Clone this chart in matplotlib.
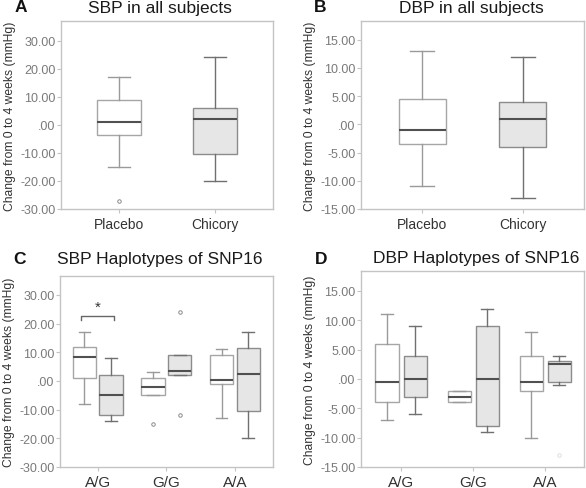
import matplotlib
matplotlib.use("Agg")
import matplotlib.pyplot as plt

plt.rcParams['font.family'] = ['Liberation Sans', 'DejaVu Sans']

# ---- data ----
groups_all = ['Placebo', 'Chicory']
# box stats: whislo, q1, med, q3, whishi
sbp_all = [[-15, -3.5, 1, 9, 17], [-20, -10.5, 2, 6, 24]]
sbp_all_fliers = [[-27], []]
dbp_all = [[-11, -3.5, -1, 4.5, 13], [-13, -4, 1, 4, 12]]
dbp_all_fliers = [[], []]

haplotypes = ['A/G', 'G/G', 'A/A']
# per haplotype: placebo then chicory
sbp_hap_placebo = [[-8, 1, 8.5, 12, 17], [-5, -5, -2, 1, 3], [-13, -1, 0.5, 9, 11]]
sbp_hap_placebo_fliers = [[], [-15], []]
sbp_hap_chicory = [[-14, -12, -5, 2, 8], [2, 2, 3.5, 9, 9], [-20, -10.5, 2.5, 11.5, 17]]
sbp_hap_chicory_fliers = [[], [24, -12], []]
dbp_hap_placebo = [[-7, -4, -0.5, 6, 11], [-4, -4, -3, -2, -2], [-10, -2, -0.5, 4, 8]]
dbp_hap_placebo_fliers = [[], [], []]
dbp_hap_chicory = [[-6, -3, 0, 4, 9], [-9, -8, 0, 9, 12], [-1, -0.5, 2.5, 3, 4]]
dbp_hap_chicory_fliers = [[], [], [-13]]

sbp_ticks = [30, 20, 10, 0, -10, -20, -30]
dbp_ticks = [15, 10, 5, 0, -5, -10, -15]

ylabel = 'Change from 0 to 4 weeks (mmHg)'

FILL_P = 'white'
FILL_C = '#e6e6e6'
SPINE = '#c4c4c4'


def stats(vals, fliers):
    lo, q1, med, q3, hi = vals
    return dict(whislo=lo, q1=q1, med=med, q3=q3, whishi=hi, fliers=fliers)


def draw(ax, st, pos, width, fill, edge, whisk, faint=False):
    fc = '#dedede' if faint else '#8a8a8a'
    ax.bxp(st, positions=pos, widths=width, patch_artist=True, capwidths=width * 0.5,
           boxprops=dict(facecolor=fill, edgecolor=edge, linewidth=1.0),
           medianprops=dict(color='#505050', linewidth=1.5),
           whiskerprops=dict(color=whisk, linewidth=1.0),
           capprops=dict(color=whisk, linewidth=1.0),
           flierprops=dict(marker='o', markersize=2.5, markerfacecolor='none',
                           markeredgecolor=fc, markeredgewidth=0.7))


def style(ax, ticks, ylim, xlim, xpos, xlabels, xsize):
    ax.set_ylim(*ylim)
    ax.set_xlim(*xlim)
    ax.set_yticks(ticks)
    ax.set_yticklabels(['.00' if t == 0 else '%.2f' % t for t in ticks])
    ax.set_xticks(xpos)
    ax.set_xticklabels(xlabels)
    for s in ax.spines.values():
        s.set_color(SPINE)
        s.set_linewidth(1.0)
    ax.tick_params(axis='y', colors='#c4c4c4', labelcolor='#7a7a7a', labelsize=9, length=3, pad=1)
    ax.tick_params(axis='x', colors='#c4c4c4', labelcolor='#333333', labelsize=xsize, length=3, pad=3)
    ax.set_ylabel(ylabel, fontsize=8.7, color='#333333', labelpad=3)


fig = plt.figure(figsize=(5.86, 4.89), dpi=100)
W, H = 586.0, 489.0


def axes_px(l, t, r, b):
    return fig.add_axes([l / W, 1 - b / H, (r - l) / W, (b - t) / H])


axA = axes_px(61, 22, 273, 210)
axB = axes_px(361, 22, 584, 210)
axC = axes_px(60, 277, 273, 468)
axD = axes_px(361, 272, 584, 468)

# panel A
draw(axA, [stats(sbp_all[0], sbp_all_fliers[0])], [1], 0.46, FILL_P, '#a6a6a6', '#9a9a9a')
draw(axA, [stats(sbp_all[1], sbp_all_fliers[1])], [2], 0.46, FILL_C, '#8c8c8c', '#707070')
style(axA, sbp_ticks, (-30, 37), (0.39, 2.61), [1, 2], groups_all, 10)

# panel B
draw(axB, [stats(dbp_all[0], dbp_all_fliers[0])], [1], 0.47, FILL_P, '#a6a6a6', '#9a9a9a')
draw(axB, [stats(dbp_all[1], dbp_all_fliers[1])], [2], 0.47, FILL_C, '#8c8c8c', '#707070')
style(axB, dbp_ticks, (-15, 18.3), (0.39, 2.61), [1, 2], groups_all, 10)

# panel C
xs = [1, 2, 3]
off, bw = 0.195, 0.34
draw(axC, [stats(v, f) for v, f in zip(sbp_hap_placebo, sbp_hap_placebo_fliers)],
     [x - off for x in xs], bw, FILL_P, '#a6a6a6', '#9a9a9a')
draw(axC, [stats(v, f) for v, f in zip(sbp_hap_chicory, sbp_hap_chicory_fliers)],
     [x + off for x in xs], bw, FILL_C, '#8c8c8c', '#707070')
style(axC, sbp_ticks, (-30, 36.6), (0.45, 3.555), xs, haplotypes, 11)
# significance bracket between A/G placebo and chicory
axC.plot([1 - 0.24, 1 - 0.24, 1 + 0.24, 1 + 0.24], [21.2, 22.7, 22.7, 21.2], color='#666666', lw=1.0)
axC.text(1, 23.3, '*', ha='center', va='bottom', fontsize=11, color='#333333')

# panel D
draw(axD, [stats(v, f) for v, f in zip(dbp_hap_placebo, dbp_hap_placebo_fliers)],
     [x - off for x in xs], 0.32, FILL_P, '#a6a6a6', '#9a9a9a')
draw(axD, [stats(v, f) for v, f in zip(dbp_hap_chicory, dbp_hap_chicory_fliers)],
     [x + off for x in xs], 0.32, FILL_C, '#8c8c8c', '#707070', faint=True)
style(axD, dbp_ticks, (-15, 18.4), (0.444, 3.54), xs, haplotypes, 11)

# titles and panel letters
title_kw = dict(fontsize=12.5, color='#1a1a1a', ha='center', va='center')
fig.text(160 / W, 1 - 8 / H, 'SBP in all subjects', **title_kw)
fig.text(471 / W, 1 - 8 / H, 'DBP in all subjects', **title_kw)
fig.text(160 / W, 1 - 260 / H, 'SBP Haplotypes of SNP16', **title_kw)
fig.text(476 / W, 1 - 259 / H, 'DBP Haplotypes of SNP16', **title_kw)

letter_kw = dict(fontsize=12.5, fontweight='bold', color='#111111', ha='center', va='center')
fig.text(21 / W, 1 - 8 / H, 'A', **letter_kw)
fig.text(320 / W, 1 - 8 / H, 'B', **letter_kw)
fig.text(20 / W, 1 - 260 / H, 'C', **letter_kw)
fig.text(321 / W, 1 - 259 / H, 'D', **letter_kw)

fig.savefig('out.png', dpi=100)
